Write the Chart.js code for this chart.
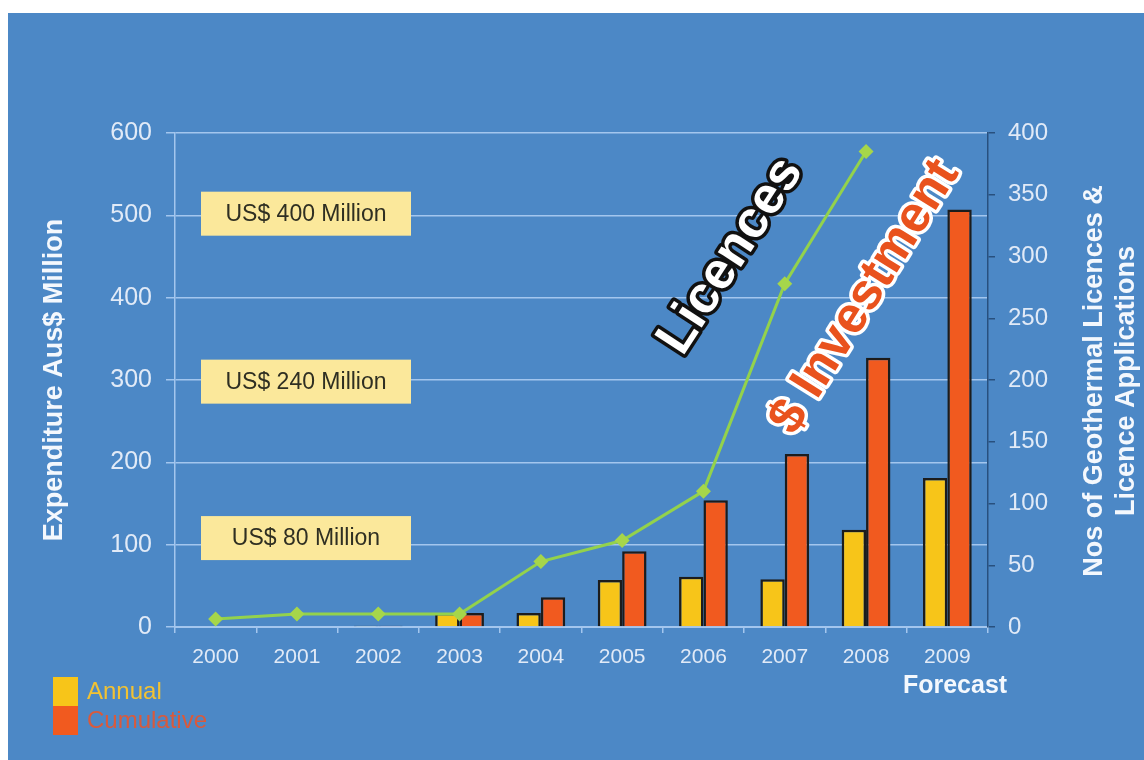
<!DOCTYPE html>
<html>
<head>
<meta charset="utf-8">
<script src="https://cdn.jsdelivr.net/npm/chart.js@4/dist/chart.umd.min.js"></script>
<style>
  html,body{margin:0;padding:0;background:#fff;}
  #wrap{width:1144px;height:760px;position:relative;}
</style>
</head>
<body>
<div id="wrap"><canvas id="c" width="1144" height="760"></canvas></div>
<script>
// ---- data ----
const years = ['2000','2001','2002','2003','2004','2005','2006','2007','2008','2009'];
const annual = [0, 0, 1.5, 17, 17, 57, 61, 58, 118, 181];
const cumulative = [0, 0, 1.5, 17, 36, 92, 154, 210, 327, 507];
const licences = [6.5, 10.5, 10.5, 10.5, 53, 70, 110, 278, 385, null];
const leftTicks = [0, 100, 200, 300, 400, 500, 600];
const rightTicks = [0, 50, 100, 150, 200, 250, 300, 350, 400];
const boxLabels = ['US$ 400 Million', 'US$ 240 Million', 'US$ 80 Million'];
const boxLevels = [502, 298, 108];
const seriesNames = ['Annual', 'Cumulative'];

const FONT = '"Liberation Sans", Arial, Helvetica, sans-serif';
const PANEL = '#4c88c6';
const GRID = '#a3c6ee';
const TICKTXT = '#e1eaf7';
const YELLOW = '#f7c519';
const ORANGE = '#f15a1f';
const GREEN = '#93d24c';

const panelPlugin = {
  id: 'panel',
  beforeDraw(chart) {
    const c = chart.ctx;
    c.save();
    c.fillStyle = '#ffffff';
    c.fillRect(0, 0, chart.width, chart.height);
    c.fillStyle = PANEL;
    c.fillRect(8, 13, chart.width - 8, chart.height - 13);
    c.restore();
  }
};

const boxPlugin = {
  id: 'boxes',
  beforeDatasetsDraw(chart) {
    const c = chart.ctx, ys = chart.scales.y;
    c.save();
    boxLabels.forEach((t, i) => {
      const cy = ys.getPixelForValue(boxLevels[i]);
      c.fillStyle = '#fbe89b';
      c.fillRect(201, cy - 22, 210, 44);
      c.fillStyle = '#2f2f22';
      c.font = '23px ' + FONT;
      c.textAlign = 'center';
      c.textBaseline = 'middle';
      c.fillText(t, 306, cy + 1);
    });
    c.restore();
  }
};

const textPlugin = {
  id: 'texts',
  afterDatasetsDraw(chart) {
    const c = chart.ctx;
    const drawRot = (txt, x, y, ang, size, fill, stroke) => {
      c.save();
      c.translate(x, y);
      c.rotate(ang * Math.PI / 180);
      c.font = 'bold ' + size + 'px ' + FONT;
      c.textAlign = 'center';
      c.textBaseline = 'middle';
      c.lineJoin = 'round';
      c.lineWidth = 7;
      c.strokeStyle = stroke;
      c.strokeText(txt, 0, 0);
      c.fillStyle = fill;
      c.fillText(txt, 0, 0);
      c.restore();
    };
    drawRot('Licences', 731, 256, -57, 52, '#ffffff', '#111111');
    drawRot('$ Investment', 865, 297, -58, 51, '#e9521d', '#ffffff');
  },
  afterDraw(chart) {
    const c = chart.ctx;
    c.save();
    c.fillStyle = '#f4f8fd';
    c.font = 'bold 27px ' + FONT;
    c.textAlign = 'center';
    c.textBaseline = 'middle';
    c.save();
    c.translate(55, 380);
    c.rotate(-Math.PI / 2);
    c.fillText('Expenditure Aus$ Million', 0, 0);
    c.restore();
    c.save();
    c.translate(1111, 381);
    c.rotate(-Math.PI / 2);
    c.fillText('Nos of Geothermal Licences &', 0, -16);
    c.fillText('Licence Applications', 0, 16);
    c.restore();
    c.font = 'bold 25px ' + FONT;
    c.fillText('Forecast', 955, 686);
    const cols = [YELLOW, ORANGE];
    const txtCols = ['#f2c232', '#d95a3c'];
    const ys = [677, 706];
    seriesNames.forEach((n, i) => {
      c.fillStyle = cols[i];
      c.fillRect(53, ys[i], 25, 29);
      c.fillStyle = txtCols[i];
      c.font = '24px ' + FONT;
      c.textAlign = 'left';
      c.fillText(n, 87, ys[i] + 15);
    });
    c.restore();
  }
};

new Chart(document.getElementById('c'), {
  type: 'bar',
  data: {
    labels: years,
    datasets: [
      {
        type: 'line', label: 'Licences', data: licences, yAxisID: 'y2', order: 0,
        borderColor: GREEN, backgroundColor: '#a6d64a', borderWidth: 3,
        pointStyle: 'rectRot', pointRadius: 7.5, pointBorderWidth: 0, tension: 0, spanGaps: false
      },
      {
        label: seriesNames[0], data: annual, yAxisID: 'y', order: 1,
        backgroundColor: YELLOW, borderColor: '#1c1c1c', borderWidth: 2.5,
        categoryPercentage: 0.6, barPercentage: 1.0
      },
      {
        label: seriesNames[1], data: cumulative, yAxisID: 'y', order: 2,
        backgroundColor: ORANGE, borderColor: '#1c1c1c', borderWidth: 2.5,
        categoryPercentage: 0.6, barPercentage: 1.0
      }
    ]
  },
  options: {
    responsive: false,
    animation: false,
    layout: { padding: { top: 133, left: 0, right: 0, bottom: 0 } },
    plugins: { legend: { display: false }, tooltip: { enabled: false } },
    scales: {
      x: {
        afterFit(s) { s.height = 133; },
        grid: { drawOnChartArea: false, color: GRID, tickLength: 6, lineWidth: 1.5 },
        border: { color: GRID, width: 2 },
        ticks: { color: TICKTXT, font: { family: FONT, size: 21 }, padding: 12 }
      },
      y: {
        position: 'left', min: 0, max: 600,
        afterFit(s) { s.width = 175; },
        afterBuildTicks(s) { s.ticks = leftTicks.map(v => ({ value: v })); },
        grid: { color: GRID, lineWidth: 1.5, tickLength: 9 },
        border: { color: GRID, width: 1.5 },
        ticks: { color: TICKTXT, font: { family: FONT, size: 25 }, padding: 14 }
      },
      y2: {
        position: 'right', min: 0, max: 400,
        afterFit(s) { s.width = 156; },
        afterBuildTicks(s) { s.ticks = rightTicks.map(v => ({ value: v })); },
        grid: { drawOnChartArea: false, color: '#28507e', lineWidth: 1.5, tickLength: 7 },
        border: { color: '#28507e', width: 1.5 },
        ticks: { color: TICKTXT, font: { family: FONT, size: 24 }, padding: 13 }
      }
    }
  },
  plugins: [panelPlugin, boxPlugin, textPlugin]
});
</script>
</body>
</html>
